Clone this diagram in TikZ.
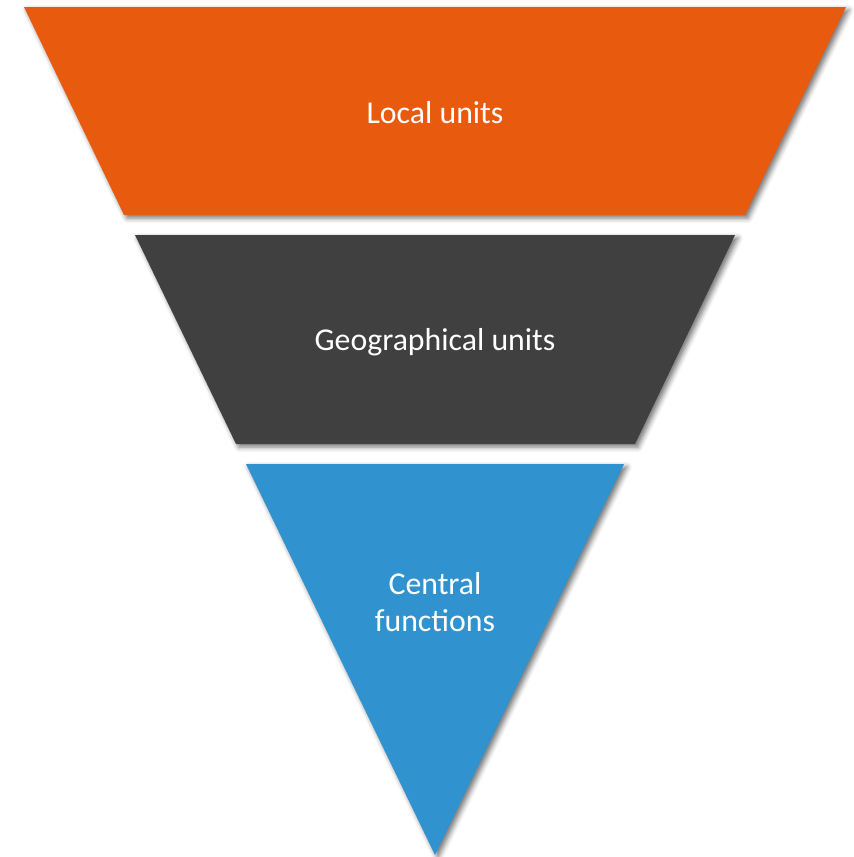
\documentclass[tikz,border=0pt]{standalone}
\usepackage{fontspec}
\setmainfont{Carlito}
\usetikzlibrary{shadows.blur}
\definecolor{orng}{HTML}{E85A0E}
\definecolor{dgray}{HTML}{404040}
\definecolor{blu}{HTML}{3093D0}
\begin{document}
\begin{tikzpicture}[x=1pt,y=-1pt,
  seg/.style={blur shadow={shadow xshift=3pt,shadow yshift=-3pt,shadow blur radius=5pt,shadow opacity=55}},
  lbl/.style={text=white,font=\fontsize{31.8}{37}\selectfont,align=center}]
\useasboundingbox (0,0) rectangle (854,857);
\fill[orng,seg] (24,7) -- (846,7) -- (745,215) -- (124,215) -- cycle;
\fill[dgray,seg] (135,235) -- (735,235) -- (635,444) -- (236,444) -- cycle;
\fill[blu,seg] (246,464) -- (624,464) -- (435,855) -- cycle;
\node[lbl] (t1) at (435,113) {Local units};
\node[lbl] (t2) at (435,342) {Geographical units};
\node[lbl] (t3) at (435,602) {Central\\functions};
\end{tikzpicture}
\end{document}
